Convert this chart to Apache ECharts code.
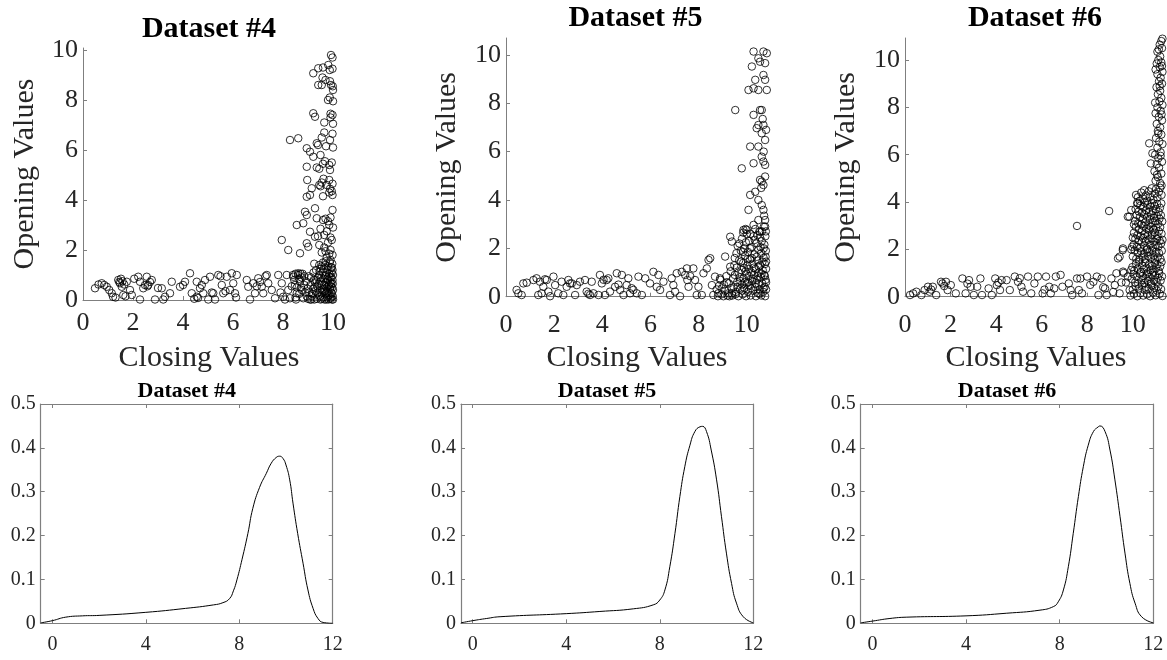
<!DOCTYPE html>
<html>
<head>
<meta charset="utf-8">
<script src="https://cdn.jsdelivr.net/npm/echarts@6/dist/echarts.min.js"></script>
<style>
  html, body { margin: 0; padding: 0; background: #fff; }
  #chart { width: 1167px; height: 660px; }
</style>
</head>
<body>
<div id="chart"></div>
<script>
// ---- tick labels & titles ----
const closingTicks = [0, 2, 4, 6, 8, 10];
const openingTicks = [0, 2, 4, 6, 8, 10];
const densityXTicks = [0, 4, 8, 12];
const titles = ['Dataset #4', 'Dataset #5', 'Dataset #6'];

// ---- Dataset #4: [closing, opening] ----
const ds4Band = [[0.48,0.47],[0.62,0.62],[0.75,0.67],[0.85,0.6],[0.95,0.53],[1.05,0.4],[1.15,0.27],[1.2,0.13],[1.3,0.1],[1.41,0.8],[1.45,0.72],[1.48,0.67],[1.52,0.85],[1.55,0.53],[1.58,0.75],[1.61,0.2],[1.65,0.62],[1.7,0.15],[1.75,0.73],[1.88,0.4],[1.95,0.2],[2.05,0.85],[2.21,0.93],[2.28,0.73],[2.28,0.02],[2.41,0.47],[2.48,0.6],[2.55,0.93],[2.58,0.55],[2.61,0.6],[2.68,0.72],[2.75,0.8],[2.88,0.02],[3.0,0.48],[3.15,0.47],[3.21,0.02],[3.28,0.13],[3.48,0.27],[3.55,0.73],[3.88,0.53],[4.0,0.6],[4.08,0.73],[4.28,1.07],[4.35,0.27],[4.45,0.05],[4.55,0.73],[4.55,0.13],[4.6,0.08],[4.68,0.47],[4.75,0.6],[4.81,0.27],[4.88,0.8],[5.01,0.02],[5.08,0.93],[5.15,0.3],[5.21,0.27],[5.28,0.02],[5.41,1.0],[5.5,0.95],[5.55,0.6],[5.61,0.27],[5.7,0.35],[5.75,0.93],[5.88,0.4],[5.95,1.07],[6.01,0.67],[6.08,0.27],[6.12,0.1],[6.15,1.0],[6.55,0.8],[6.61,0.53],[6.68,0.02],[6.81,0.67],[6.88,0.27],[6.95,0.55],[7.01,0.87],[7.08,0.72],[7.15,0.53],[7.21,0.27],[7.3,0.95],[7.35,1.0],[7.41,0.67],[7.55,0.4],[7.68,0.07],[7.81,1.0],[7.9,0.3],[7.95,0.67],[8.01,0.13],[8.08,0.02],[8.15,1.0],[8.21,0.4],[8.28,0.07],[8.35,0.55],[8.41,0.93],[8.48,0.6],[8.52,0.02],[8.55,0.27],[8.61,1.07],[8.65,0.85],[8.68,0.73],[8.72,0.5],[8.75,0.4],[8.78,1.05],[8.81,0.07],[8.85,0.95],[8.88,0.3],[8.4,1.0],[8.5,1.05],[8.6,1.0],[8.7,1.05],[8.45,0.8],[8.55,0.5],[8.65,0.25],[8.75,0.9],[8.85,0.6],[8.5,0.1]];
const ds4Column = [[7.95,2.4],[8.21,2.0],[8.28,6.4],[8.61,6.47],[8.55,3.0],[8.68,1.87],[8.81,3.07],[8.88,3.53],[8.95,3.4],[8.95,4.13],[8.97,4.8],[8.95,5.33],[8.95,6.07],[9.21,9.07],[9.21,7.47],[9.28,7.33],[9.08,5.93],[9.21,5.73],[9.08,4.2],[9.15,4.47],[9.08,2.73],[8.95,2.27],[9.01,2.13],[9.28,3.67],[9.28,2.53],[9.35,3.27],[9.35,6.27],[9.41,8.6],[9.41,9.27],[9.92,9.8],[9.98,9.7],[9.81,9.4],[9.6,9.3],[9.98,9.25],[9.87,9.2],[9.58,8.9],[9.7,8.8],[9.88,8.75],[9.55,8.6],[9.92,8.6],[9.99,8.55],[10.0,8.4],[9.87,8.1],[9.8,8.0],[10.0,7.95],[9.9,7.45],[9.98,7.4],[9.9,7.3],[9.65,7.1],[10.0,7.05],[9.65,6.7],[9.98,6.65],[9.55,6.5],[9.88,6.4],[9.4,6.2],[9.72,6.15],[10.0,6.1],[9.5,5.8],[9.68,5.55],[9.95,5.5],[9.6,5.45],[9.85,5.4],[9.35,5.3],[9.45,5.25],[9.88,5.2],[9.62,4.85],[9.85,4.8],[9.55,4.7],[9.98,4.65],[9.45,4.6],[9.75,4.6],[9.5,4.55],[9.88,4.45],[9.95,4.35],[9.85,4.3],[9.98,4.2],[9.6,4.15],[9.98,3.6],[9.9,3.3],[9.7,3.25],[9.6,3.2],[9.8,3.15],[9.85,3.0],[10.0,2.9],[9.5,2.85],[9.75,2.75],[9.65,2.6],[9.4,2.55],[9.9,2.5],[9.95,2.4],[9.8,2.3],[9.45,2.2],[9.65,2.1],[9.9,2.0],[9.7,1.95],[9.55,1.9],[9.85,1.85],[9.98,1.8],[9.75,1.7],[9.9,1.6],[9.6,1.5],[9.25,1.45],[9.45,1.4],[9.8,1.35],[9.95,1.3]];
const ds4Cluster = [[9.0,0.05],[9.05,0.3],[9.1,0.6],[9.12,0.9],[9.15,0.15],[9.2,0.45],[9.22,1.1],[9.25,0.02],[9.28,0.7],[9.3,0.35],[9.32,1.2],[9.35,0.05],[9.38,0.55],[9.4,0.9],[9.42,0.2],[9.45,1.0],[9.47,0.4],[9.5,0.02],[9.5,0.75],[9.52,1.25],[9.55,0.3],[9.57,0.6],[9.6,0.1],[9.6,1.1],[9.62,0.85],[9.64,0.45],[9.66,0.02],[9.68,1.4],[9.7,0.25],[9.7,0.7],[9.72,1.0],[9.74,0.5],[9.76,0.1],[9.78,1.2],[9.8,0.35],[9.8,0.8],[9.82,0.02],[9.84,0.6],[9.85,1.05],[9.86,0.2],[9.88,0.45],[9.9,0.9],[9.9,0.05],[9.92,1.3],[9.93,0.65],[9.94,0.3],[9.95,1.1],[9.96,0.02],[9.97,0.5],[9.98,0.8],[9.99,0.15],[10.0,0.4],[10.0,1.0],[10.0,0.02],[9.99,0.65],[9.97,1.45],[9.95,0.25],[9.92,0.1],[9.89,0.7],[9.83,0.95],[9.79,0.55],[9.75,0.3],[9.73,0.02],[9.69,0.95],[9.65,0.6],[9.58,0.4],[9.53,0.9],[9.48,0.15],[9.43,0.65],[9.37,0.3],[9.33,0.8],[9.27,0.5],[9.18,0.25],[9.08,0.02],[8.98,0.45],[8.92,0.75],[8.95,0.15],[9.03,0.95],[9.13,0.02],[9.23,0.8],[9.46,1.15],[9.56,1.35],[9.63,1.25],[9.71,1.55],[9.77,0.85],[9.87,1.5],[9.94,0.9],[9.98,1.2],[9.91,0.55],[9.81,0.15],[9.67,0.35],[9.54,0.05]];

// ---- Dataset #5 ----
const ds5Band = [[0.44,0.28],[0.51,0.14],[0.65,0.07],[0.72,0.55],[0.86,0.58],[1.14,0.69],[1.27,0.76],[1.34,0.07],[1.41,0.62],[1.48,0.14],[1.55,0.41],[1.62,0.72],[1.69,0.69],[1.76,0.21],[1.83,0.02],[1.97,0.83],[2.04,0.48],[2.17,0.14],[2.31,0.62],[2.38,0.07],[2.52,0.41],[2.59,0.69],[2.66,0.55],[2.73,0.55],[2.87,0.07],[2.94,0.48],[3.07,0.62],[3.28,0.69],[3.35,0.21],[3.42,0.12],[3.49,0.07],[3.56,0.62],[3.63,0.14],[3.84,0.07],[3.9,0.9],[3.98,0.55],[4.05,0.7],[4.11,0.07],[4.18,0.69],[4.25,0.76],[4.32,0.21],[4.53,0.41],[4.6,0.97],[4.67,0.5],[4.74,0.28],[4.81,0.9],[4.88,0.07],[5.01,0.48],[5.08,0.76],[5.15,0.14],[5.22,0.35],[5.29,0.28],[5.43,0.14],[5.5,0.83],[5.64,0.07],[5.78,0.76],[5.98,0.55],[6.12,1.03],[6.26,0.41],[6.33,0.9],[6.4,0.28],[6.54,0.62],[6.81,0.07],[6.88,0.76],[6.95,0.48],[7.02,0.21],[7.09,0.97],[7.23,0.02],[7.3,1.03],[7.44,0.9],[7.51,1.17],[7.53,0.69],[7.58,0.41],[7.65,0.85],[7.78,1.17],[7.85,0.69],[7.92,0.07],[7.99,0.41],[8.13,0.07],[8.2,0.97],[8.34,1.17],[8.41,1.52],[8.48,1.59],[8.55,0.48],[8.61,0.07],[8.68,0.83],[8.75,0.3],[8.82,0.14],[8.89,0.76],[8.96,0.34],[9.03,0.02],[9.1,1.66],[9.17,0.6],[9.24,0.14],[9.31,1.24],[9.31,2.48],[9.38,2.28],[9.38,0.14],[8.85,0.45],[8.9,0.7],[8.95,0.1],[9.05,0.5],[9.1,0.25],[9.15,0.85],[9.2,0.05],[8.8,0.02]];
const ds5Column = [[9.52,7.72],[9.79,5.31],[10.28,10.14],[10.69,10.14],[10.83,10.07],[10.55,9.72],[10.76,9.66],[10.21,9.52],[10.48,9.86],[10.35,8.97],[10.69,9.17],[10.76,8.97],[10.07,8.55],[10.28,8.62],[10.48,8.55],[10.83,8.55],[10.55,7.72],[10.62,7.72],[10.28,7.52],[10.48,7.1],[10.41,6.97],[10.69,7.1],[10.62,6.76],[10.76,6.48],[10.14,6.21],[10.48,6.21],[10.62,5.79],[10.69,5.59],[10.28,5.52],[10.76,5.45],[10.76,4.97],[10.55,4.83],[10.62,4.76],[10.69,4.62],[10.14,4.21],[10.35,4.34],[10.48,4.0],[10.07,3.59],[10.69,3.59],[10.62,3.79],[10.76,3.17],[10.48,3.17],[10.76,2.9],[10.28,2.97],[9.86,2.76],[10.0,2.76],[10.55,2.69],[10.72,3.35],[10.6,4.5],[10.8,6.9],[10.7,6.0],[10.66,7.35]];
const ds5Cluster = [[9.4,0.05],[9.45,0.4],[9.5,0.9],[9.5,1.6],[9.55,0.2],[9.58,1.2],[9.6,0.6],[9.62,2.1],[9.65,0.02],[9.68,1.5],[9.7,0.8],[9.72,0.3],[9.75,1.9],[9.78,1.1],[9.8,0.5],[9.8,2.4],[9.83,0.1],[9.85,1.4],[9.87,0.75],[9.9,2.0],[9.9,0.35],[9.93,1.7],[9.95,1.05],[9.97,0.02],[10.0,0.55],[10.0,2.6],[10.02,1.3],[10.05,0.2],[10.05,1.85],[10.08,0.85],[10.1,2.3],[10.12,0.45],[10.14,1.55],[10.16,0.05],[10.18,1.0],[10.2,2.05],[10.22,0.65],[10.24,1.35],[10.26,0.25],[10.28,2.5],[10.3,0.9],[10.32,1.75],[10.34,0.4],[10.36,1.15],[10.38,0.02],[10.4,2.2],[10.42,0.7],[10.44,1.5],[10.46,0.15],[10.48,1.95],[10.5,0.5],[10.5,1.0],[10.52,2.7],[10.54,0.3],[10.56,1.3],[10.58,0.8],[10.6,1.8],[10.6,0.05],[10.62,2.3],[10.64,0.55],[10.66,1.1],[10.68,0.2],[10.7,1.6],[10.7,2.0],[10.72,0.9],[10.74,0.4],[10.75,1.35],[10.76,0.02],[10.77,2.5],[10.78,0.7],[10.79,1.9],[10.8,1.15],[10.8,0.3],[10.78,1.65],[10.75,0.85],[10.73,2.15],[10.69,0.35],[10.65,1.45],[10.61,0.95],[10.57,2.05],[10.53,0.12],[10.49,1.25],[10.45,0.85],[10.41,1.65],[10.37,0.55],[10.33,2.35],[10.29,1.2],[10.25,0.75],[10.21,1.6],[10.17,0.35],[10.13,2.0],[10.09,1.15],[10.06,0.6],[10.03,1.55],[9.99,0.95],[9.96,2.25],[9.92,0.6],[9.88,1.2],[9.84,1.85],[9.81,0.25],[9.77,1.45],[9.73,0.65],[9.69,2.2],[9.66,1.0],[9.61,0.4],[9.57,1.8],[9.53,0.1],[9.48,1.3],[9.43,0.75],[9.36,0.35],[9.33,1.05],[9.28,0.02],[9.25,0.55],[10.8,0.6],[10.8,1.45],[10.79,2.7],[10.71,2.9],[10.63,2.7],[10.55,2.45],[10.44,2.55],[10.35,2.8],[10.15,2.6],[9.95,2.8],[9.85,2.65]];

// ---- Dataset #6 ----
const ds6Band = [[0.22,0.07],[0.36,0.14],[0.5,0.21],[0.72,0.07],[0.86,0.28],[1.01,0.42],[1.08,0.21],[1.15,0.3],[1.22,0.42],[1.37,0.07],[1.58,0.63],[1.65,0.56],[1.72,0.45],[1.8,0.63],[1.87,0.28],[2.01,0.49],[2.23,0.14],[2.52,0.77],[2.66,0.14],[2.74,0.55],[2.81,0.7],[2.88,0.42],[3.02,0.07],[3.17,0.42],[3.31,0.77],[3.38,0.07],[3.67,0.35],[3.81,0.07],[3.96,0.77],[4.03,0.49],[4.1,0.6],[4.17,0.28],[4.24,0.7],[4.46,0.7],[4.6,0.28],[4.82,0.85],[4.96,0.63],[5.04,0.78],[5.11,0.42],[5.18,0.21],[5.4,0.85],[5.54,0.14],[5.68,0.56],[5.83,0.85],[6.04,0.14],[6.12,0.3],[6.19,0.85],[6.33,0.42],[6.4,0.14],[6.55,0.35],[6.62,0.85],[6.83,0.92],[6.91,0.42],[7.19,0.56],[7.27,0.28],[7.34,0.07],[7.55,0.77],[7.63,0.28],[7.7,0.77],[7.77,0.14],[7.99,0.85],[8.13,0.5],[8.27,0.63],[8.42,0.85],[8.49,0.07],[8.63,0.77],[8.7,0.4],[8.78,0.35],[8.85,0.07],[9.06,0.77],[9.14,0.2],[9.21,0.49],[9.28,0.99],[9.42,0.14],[9.5,0.6],[9.57,1.06],[9.6,1.0],[9.7,0.6],[9.78,0.85],[9.86,0.28],[9.93,1.13]];
const ds6Rise = [[7.55,2.99],[8.96,3.62],[9.42,1.69],[9.57,2.04],[9.35,1.62],[9.97,2.11],[9.78,3.38],[9.93,3.66],[10.22,3.94],[10.14,4.3],[10.72,6.48],[10.79,5.63],[10.86,6.06],[9.85,3.38],[9.56,1.97],[9.93,2.0],[10.05,3.05],[10.0,2.5]];
const ds6Cluster = [[9.9,0.05],[10.0,0.3],[10.05,0.12],[10.12,0.45],[10.2,0.02],[10.26,0.35],[10.33,0.15],[10.4,0.5],[10.46,0.05],[10.52,0.28],[10.58,0.42],[10.63,0.1],[10.7,0.33],[10.76,0.02],[10.82,0.48],[10.88,0.18],[10.94,0.38],[11.0,0.06],[11.06,0.26],[11.12,0.44],[11.18,0.12],[11.24,0.32],[11.3,0.03],[9.95,0.75],[10.03,0.95],[10.1,0.6],[10.17,0.85],[10.24,0.55],[10.3,0.98],[10.37,0.7],[10.43,0.88],[10.5,0.58],[10.56,0.78],[10.62,0.96],[10.68,0.65],[10.74,0.84],[10.8,0.55],[10.86,0.92],[10.92,0.7],[10.98,0.9],[11.04,0.62],[11.1,0.8],[11.16,0.98],[11.22,0.68],[11.28,0.86],[9.98,1.25],[10.06,1.1],[10.14,1.4],[10.21,1.18],[10.28,1.48],[10.35,1.05],[10.41,1.32],[10.48,1.15],[10.54,1.45],[10.6,1.22],[10.66,1.02],[10.72,1.38],[10.78,1.12],[10.84,1.3],[10.9,1.05],[10.96,1.42],[11.02,1.2],[11.08,1.36],[11.14,1.08],[11.2,1.28],[11.26,1.46],[10.0,1.7],[10.08,1.95],[10.15,1.6],[10.22,1.85],[10.29,1.55],[10.36,1.92],[10.42,1.68],[10.49,1.82],[10.55,1.58],[10.61,1.98],[10.67,1.72],[10.73,1.88],[10.79,1.62],[10.85,1.96],[10.91,1.75],[10.97,1.56],[11.03,1.9],[11.09,1.66],[11.15,1.84],[11.21,1.6],[11.27,1.94],[10.04,2.2],[10.11,2.45],[10.18,2.1],[10.25,2.38],[10.32,2.05],[10.39,2.3],[10.45,2.48],[10.51,2.15],[10.57,2.35],[10.64,2.02],[10.7,2.42],[10.76,2.2],[10.82,2.46],[10.88,2.08],[10.94,2.32],[11.0,2.18],[11.06,2.44],[11.12,2.12],[11.18,2.36],[11.24,2.25],[11.3,2.4],[10.05,2.7],[10.13,2.95],[10.2,2.6],[10.27,2.85],[10.34,2.55],[10.41,2.78],[10.47,2.98],[10.53,2.65],[10.6,2.88],[10.66,2.58],[10.72,2.8],[10.78,2.96],[10.84,2.62],[10.9,2.84],[10.96,2.7],[11.02,2.92],[11.08,2.56],[11.14,2.76],[11.2,2.94],[11.26,2.66],[10.1,3.2],[10.17,3.45],[10.24,3.1],[10.31,3.35],[10.38,3.05],[10.44,3.28],[10.5,3.48],[10.56,3.15],[10.63,3.38],[10.69,3.02],[10.75,3.25],[10.81,3.46],[10.87,3.12],[10.93,3.32],[10.99,3.2],[11.05,3.42],[11.11,3.08],[11.17,3.3],[11.23,3.44],[11.29,3.18],[10.12,3.7],[10.19,3.95],[10.26,3.6],[10.33,3.85],[10.4,3.55],[10.46,3.78],[10.52,3.98],[10.59,3.65],[10.65,3.88],[10.71,3.58],[10.77,3.8],[10.83,3.96],[10.89,3.62],[10.95,3.84],[11.01,3.7],[11.07,3.92],[11.13,3.58],[11.19,3.76],[11.25,3.94],[10.22,4.2],[10.3,4.05],[10.37,4.4],[10.44,4.15],[10.5,4.5],[10.57,4.28],[10.64,4.05],[10.7,4.45],[10.76,4.22],[10.83,4.58],[10.9,4.1],[10.96,4.35],[11.02,4.55],[11.08,4.2],[11.14,4.42],[11.2,4.6],[11.26,4.3]];
const ds6Column = [[11.2,4.8],[11.0,4.9],[11.1,5.05],[11.25,5.2],[10.95,5.3],[11.15,5.45],[11.05,5.6],[11.28,5.7],[11.12,5.85],[10.98,6.0],[11.22,6.1],[11.08,6.3],[11.3,6.45],[11.16,6.55],[11.02,6.7],[11.25,6.85],[11.1,7.0],[11.2,7.15],[11.05,7.3],[11.28,7.45],[11.14,7.6],[11.0,7.75],[11.22,7.85],[11.08,8.0],[11.3,8.1],[11.17,8.25],[10.98,8.2],[11.25,8.4],[11.1,8.55],[11.2,8.7],[11.04,8.85],[11.28,9.0],[11.15,9.1],[11.22,9.25],[11.08,9.4],[11.3,9.5],[11.0,9.6],[11.18,9.7],[11.05,9.85],[11.25,9.9],[11.12,10.0],[11.2,10.15],[11.08,10.35],[11.28,10.5],[11.18,10.65],[11.25,10.8],[11.3,10.9],[11.22,5.95],[11.12,6.9],[11.26,7.7],[11.18,8.9],[11.28,9.75],[11.06,5.15],[11.26,4.7],[11.14,10.45]];

// ---- density curves of closing values ----
const kde4X = [-0.5,0,0.57,1.29,2,4,5.7,6.9,7.3,7.58,7.75,7.9,8.12,8.37,8.58,8.87,9.16,9.37,9.58,9.73,9.87,10.0,10.16,10.3,10.5,10.73,10.94,11.16,11.37,11.59,12];
const kde4Y = [0.001,0.006,0.014,0.017,0.018,0.025,0.034,0.042,0.047,0.056,0.074,0.099,0.146,0.205,0.262,0.31,0.342,0.365,0.378,0.381,0.376,0.361,0.327,0.274,0.205,0.137,0.076,0.034,0.011,0.002,0];
const kde5X = [-0.5,0,0.6,1.17,4,5.44,6.87,7.72,8.0,8.22,8.43,8.65,8.86,9.07,9.29,9.5,9.72,9.83,10.0,10.2,10.43,10.64,10.85,11.07,11.28,11.57,12];
const kde5Y = [0.001,0.006,0.011,0.015,0.022,0.027,0.033,0.042,0.053,0.076,0.129,0.205,0.289,0.357,0.406,0.437,0.448,0.449,0.437,0.395,0.327,0.243,0.16,0.091,0.046,0.015,0.001];
const kde6X = [-0.5,0,0.75,1.47,4,5.74,7.16,7.73,7.94,8.16,8.37,8.58,8.8,9.01,9.22,9.44,9.65,9.72,9.94,10.15,10.36,10.58,10.79,11.0,11.22,11.5,12];
const kde6Y = [0.001,0.005,0.011,0.014,0.017,0.023,0.030,0.038,0.049,0.076,0.129,0.205,0.289,0.357,0.406,0.437,0.448,0.45,0.437,0.395,0.327,0.243,0.16,0.091,0.046,0.015,0.001];

// ---- drawing ----
const FONT = 'Liberation Serif';
const TEXT = '#262626';
const AXIS = '#7f7f7f';

const scatterSets = [
  ds4Band.concat(ds4Column, ds4Cluster),
  ds5Band.concat(ds5Column, ds5Cluster),
  ds6Band.concat(ds6Rise, ds6Cluster, ds6Column)
];
const densitySets = [[kde4X, kde4Y], [kde5X, kde5Y], [kde6X, kde6Y]];

// panel frames (pixels) and axis extents
const topFrames = [
  { left: 83,  top: 48, width: 252, height: 252,   xMax: 10.08, yMax: 10.08, labelMargin: 10, nameGap: 43, yNameGap: 43 },
  { left: 506, top: 38, width: 262, height: 258.7, xMax: 10.88, yMax: 10.7,  labelMargin: 15, nameGap: 46, yNameGap: 44 },
  { left: 905, top: 38, width: 266.5, height: 258.7, xMax: 11.5, yMax: 10.93, labelMargin: 15, nameGap: 46, yNameGap: 44 }
];
const bottomFrames = [
  { left: 40.7, top: 404, width: 292,   height: 219.3 },
  { left: 461,  top: 404, width: 292.3, height: 219.3 },
  { left: 860.7, top: 404, width: 292.6, height: 219.3 }
];

function serifText(size, extra) {
  return Object.assign({ fontFamily: FONT, fontSize: size, color: TEXT, fontWeight: 'normal' }, extra || {});
}

const grid = [];
const xAxis = [];
const yAxis = [];
const series = [];
const graphic = [];

topFrames.forEach((f, i) => {
  grid.push({ left: f.left, top: f.top, width: f.width, height: f.height, containLabel: false });
  xAxis.push({
    gridIndex: i, type: 'value', min: 0, max: f.xMax,
    axisLine: { show: true, onZero: false, lineStyle: { color: AXIS, width: 1 } },
    axisTick: { show: true, inside: true, length: 4, customValues: closingTicks, lineStyle: { color: AXIS } },
    axisLabel: serifText(26, { customValues: closingTicks, margin: f.labelMargin }),
    splitLine: { show: false },
    name: 'Closing Values', nameLocation: 'middle', nameGap: f.nameGap,
    nameTextStyle: serifText(30)
  });
  yAxis.push({
    gridIndex: i, type: 'value', min: 0, max: f.yMax,
    axisLine: { show: true, onZero: false, lineStyle: { color: AXIS, width: 1 } },
    axisTick: { show: true, inside: true, length: 4, customValues: openingTicks, lineStyle: { color: AXIS } },
    axisLabel: serifText(26, { customValues: openingTicks, margin: 5 }),
    splitLine: { show: false },
    name: 'Opening Values', nameLocation: 'middle', nameGap: f.yNameGap,
    nameTextStyle: serifText(30)
  });
  series.push({
    type: 'scatter', xAxisIndex: i, yAxisIndex: i,
    data: scatterSets[i], symbol: 'circle', symbolSize: 7.5,
    itemStyle: { color: 'rgba(0,0,0,0)', borderColor: '#000', borderWidth: 1 },
    silent: true, animation: false
  });
});

bottomFrames.forEach((f, i) => {
  const g = 3 + i;
  grid.push({ left: f.left, top: f.top, width: f.width, height: f.height, containLabel: false });
  const common = {
    gridIndex: g, type: 'value',
    axisLine: { show: true, onZero: false, lineStyle: { color: AXIS, width: 1.2 } },
    splitLine: { show: false }
  };
  const xi = xAxis.length;
  xAxis.push(Object.assign({}, common, {
    position: 'bottom', min: -0.5, max: 12,
    axisTick: { show: true, inside: true, length: 4, customValues: densityXTicks, lineStyle: { color: AXIS } },
    axisLabel: serifText(20, { customValues: densityXTicks, margin: 11 })
  }));
  xAxis.push(Object.assign({}, common, {
    position: 'top', min: -0.5, max: 12,
    axisTick: { show: true, inside: true, length: 4, customValues: densityXTicks, lineStyle: { color: AXIS } },
    axisLabel: { show: false }
  }));
  const yi = yAxis.length;
  yAxis.push(Object.assign({}, common, {
    position: 'left', min: 0, max: 0.5, interval: 0.1,
    axisTick: { show: true, inside: true, length: 4, lineStyle: { color: AXIS } },
    axisLabel: serifText(20, { margin: 5 })
  }));
  yAxis.push(Object.assign({}, common, {
    position: 'right', min: 0, max: 0.5, interval: 0.1,
    axisTick: { show: true, inside: true, length: 4, lineStyle: { color: AXIS } },
    axisLabel: { show: false }
  }));
  const [xs, ys] = densitySets[i];
  series.push({
    type: 'line', xAxisIndex: xi, yAxisIndex: yi,
    data: xs.map((x, k) => [x, ys[k]]),
    smooth: 0.5, showSymbol: false,
    lineStyle: { color: '#000', width: 1 },
    silent: true, animation: false
  });
});

// panel titles
const topTitleCenters = [[209, 29.5], [635.5, 18.7], [1035, 18.7]];
const bottomTitleCenters = [[186.7, 391], [607, 391], [1007, 391]];
titles.forEach((t, i) => {
  graphic.push({
    type: 'text', x: topTitleCenters[i][0], y: topTitleCenters[i][1], silent: true,
    style: { text: t, fill: '#000', font: 'bold 30px "' + FONT + '"',
      align: 'center', verticalAlign: 'middle', textAlign: 'center', textVerticalAlign: 'middle' }
  });
  graphic.push({
    type: 'text', x: bottomTitleCenters[i][0], y: bottomTitleCenters[i][1], silent: true,
    style: { text: t, fill: '#000', font: 'bold 22px "' + FONT + '"',
      align: 'center', verticalAlign: 'middle', textAlign: 'center', textVerticalAlign: 'middle' }
  });
});

const chart = echarts.init(document.getElementById('chart'));
chart.setOption({
  backgroundColor: '#fff',
  animation: false,
  textStyle: { fontFamily: FONT },
  grid, xAxis, yAxis, series, graphic
});
</script>
</body>
</html>
